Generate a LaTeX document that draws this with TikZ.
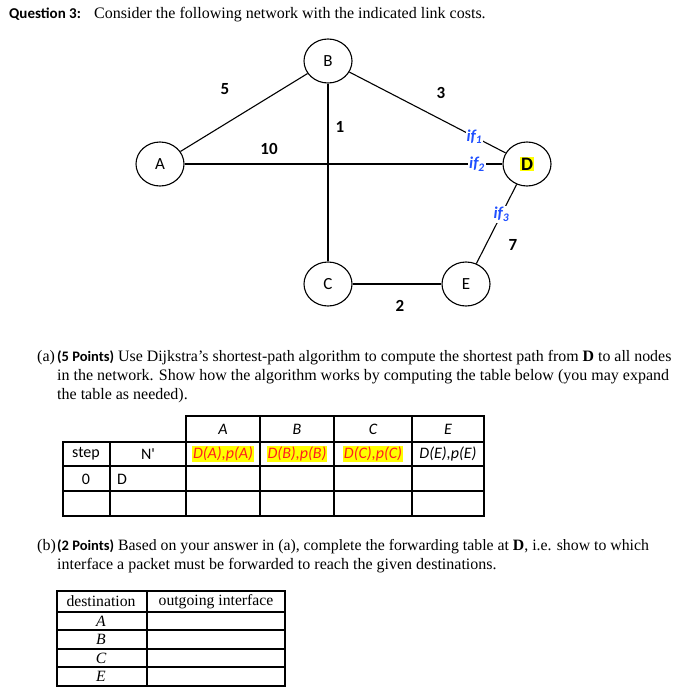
\documentclass[tikz,border=0pt]{standalone}
\usepackage{fontspec}
\setmainfont{Liberation Serif}
\newfontfamily\calf{Carlito}
\usetikzlibrary{shapes.geometric}
\definecolor{ifblue}{RGB}{32,80,255}
\definecolor{hlred}{RGB}{255,30,30}
\definecolor{hlyellow}{RGB}{255,255,0}
\newcommand{\hl}[1]{{\setlength{\fboxsep}{0.6pt}\colorbox{hlyellow}{#1}}}
\begin{document}
\begin{tikzpicture}[x=1pt,y=-1pt,
  nd/.style={draw, ellipse, line width=1.1pt, minimum width=48pt, minimum height=44pt, inner sep=0pt, font=\calf\fontsize{17}{17}\selectfont},
  edge/.style={line width=1.1pt},
  cost/.style={inner sep=0pt, font=\calf\bfseries\fontsize{17}{17}\selectfont},
  ifl/.style={fill=white, inner sep=1pt, text=ifblue, font=\calf\itshape\bfseries\fontsize{16.5}{16.5}\selectfont},
  body/.style={anchor=base west, inner sep=0pt, font=\fontsize{16}{19}\selectfont},
  tline/.style={line width=1.1pt},
  tcell/.style={inner sep=0pt, font=\calf\fontsize{16}{16}\selectfont},
  tcelli/.style={inner sep=0pt, font=\calf\itshape\fontsize{16}{16}\selectfont},
  fcell/.style={inner sep=0pt, font=\fontsize{15.7}{15.7}\selectfont}
]
\useasboundingbox[fill=white] (0,0) rectangle (695,699);

% title
\node[body, font=\calf\bfseries\fontsize{15}{19}\selectfont] (q3) at (9,18) {Question 3:};
\node[body] (t1) at (94,18) {Consider the following network with the indicated link costs.};

% network
\node[nd] (A) at (160,164) {A};
\node[nd] (B) at (328,61) {B};
\node[nd] (C) at (328,284) {C};
\node[nd] (E) at (466,284) {E};
\node[nd, font=\calf\bfseries\fontsize{19}{19}\selectfont] (D) at (527,164) {\hl{D}};

\draw[edge] (A) -- (B);
\draw[edge] (B) -- (C);
\draw[edge] (C) -- (E);
\draw[edge] (A) -- (D) node[ifl, pos=0.92] (if2) {if\textsubscript{2}};
\draw[edge] (B) -- (D) node[ifl, pos=0.8] (if1) {if\textsubscript{1}};
\draw[edge] (E) -- (D) node[ifl, pos=0.62] (if3) {if\textsubscript{3}};

\node[cost] (c5) at (225,89) {5};
\node[cost] (c3) at (441,93) {3};
\node[cost] (c1) at (340,127) {1};
\node[cost] (c10) at (269,149) {10};
\node[cost] (c2) at (400,306) {2};
\node[cost] (c7) at (513,245) {7};

% part (a)
\node[body] (pa) at (37,361) {(a)};
\node[body, font=\fontsize{15.9}{19}\selectfont] (a1) at (57,361) {{\calf\bfseries\fontsize{14.5}{19}\selectfont (5 Points)} Use Dijkstra’s shortest-path algorithm to compute the shortest path from \textbf{D} to all nodes};
\node[body] (a2) at (57,380) {in the network. Show how the algorithm works by computing the table below (you may expand};
\node[body] (a3) at (57,399) {the table as needed).};

% table 1
\draw[tline] (186,416) rectangle (484,442);
\draw[tline] (63,442) rectangle (484,516);
\foreach \yy in {466,491} \draw[tline] (63,\yy) -- (484,\yy);
\draw[tline] (110,442) -- (110,516);
\draw[tline] (186,442) -- (186,516);
\foreach \xx in {260,334,412} \draw[tline] (\xx,416) -- (\xx,516);

\node[tcelli] (hA) at (223,429) {A};
\node[tcelli] (hB) at (297,429) {B};
\node[tcelli] (hC) at (373,429) {C};
\node[tcelli] (hE) at (448,429) {E};
\node[tcell] (hstep) at (86,454) {step};
\node[tcell] (hN) at (148,454) {N'};
\node[tcelli] (dA) at (223,454) {\hl{\textcolor{hlred}{D(A),p(A)}}};
\node[tcelli] (dB) at (297,454) {\hl{\textcolor{hlred}{D(B),p(B)}}};
\node[tcelli] (dC) at (373,454) {\hl{\textcolor{hlred}{D(C),p(C)}}};
\node[tcelli] (dE) at (448,454) {D(E),p(E)};
\node[tcell] (r0) at (86,479) {0};
\node[tcell, anchor=west] (rD) at (117,479) {D};

% part (b)
\node[body] (pb) at (37,550) {(b)};
\node[body, font=\fontsize{15.8}{19}\selectfont] (b1) at (57,550) {{\calf\bfseries\fontsize{14.5}{19}\selectfont (2 Points)} Based on your answer in (a), complete the forwarding table at \textbf{D}, i.e. show to which};
\node[body] (b2) at (57,569) {interface a packet must be forwarded to reach the given destinations.};

% table 2
\draw[tline] (57,591) rectangle (285,686);
\draw[tline] (147,591) -- (147,686);
\foreach \yy in {612,630,649,667} \draw[tline] (57,\yy) -- (285,\yy);
\node[fcell] (fdest) at (101,601.5) {destination};
\node[fcell] (fout) at (216,601.5) {outgoing interface};
\node[fcell] (fA) at (101,621) {\itshape A};
\node[fcell] (fB) at (101,639.5) {\itshape B};
\node[fcell] (fC) at (101,658) {\itshape C};
\node[fcell] (fE) at (101,676.5) {\itshape E};
\end{tikzpicture}
\end{document}
